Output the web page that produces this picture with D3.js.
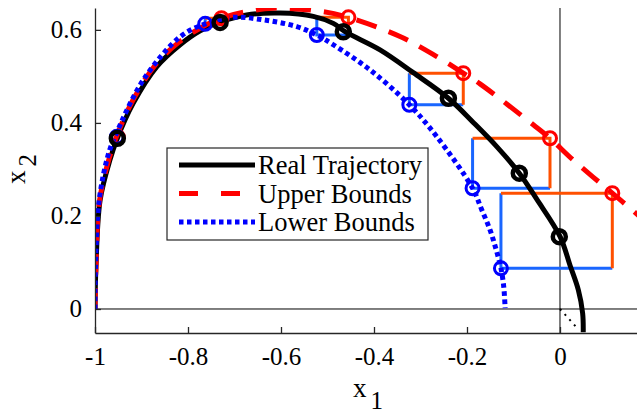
<!DOCTYPE html>
<html>
<head>
<meta charset="utf-8">
<script src="https://d3js.org/d3.v7.min.js"></script>
<style>
  body { margin: 0; background: #fff; }
  text { font-family: "Liberation Serif", "Times New Roman", serif; fill: #000; }
</style>
</head>
<body>
<div class="chart"></div>
<script>
var realTrajectory = [
  [-1, 0], [-0.998, 0.09], [-0.989, 0.234], [-0.968, 0.32], [-0.952, 0.367],
  [-0.918, 0.442], [-0.867, 0.521], [-0.817, 0.568], [-0.774, 0.598], [-0.731, 0.617],
  [-0.674, 0.632], [-0.602, 0.636], [-0.5305, 0.629], [-0.4875, 0.614], [-0.462, 0.596],
  [-0.387, 0.557], [-0.3155, 0.508], [-0.24, 0.453], [-0.1865, 0.401], [-0.136, 0.349],
  [-0.0875, 0.292], [-0.05, 0.236], [0, 0.156], [0.0215, 0.094], [0.0394, 0.041],
  [0.0487, -0.009], [0.050, -0.05]
]

var upperBounds = [
  [-1, 0], [-0.998, 0.09], [-0.990, 0.234], [-0.970, 0.322], [-0.954, 0.37],
  [-0.920, 0.446], [-0.870, 0.525], [-0.820, 0.573], [-0.775, 0.603], [-0.731, 0.624],
  [-0.68, 0.638], [-0.6165, 0.6466], [-0.516, 0.640], [-0.455, 0.627], [-0.344, 0.5856],
  [-0.265, 0.5426], [-0.208, 0.507], [-0.172, 0.484], [-0.0574, 0.396], [-0.0215, 0.367],
  [0.0286, 0.320], [0.1125, 0.249], [0.17, 0.2]
]

var lowerBounds = [
  [-1, 0], [-0.999, 0.09], [-0.991, 0.234], [-0.972, 0.33], [-0.955, 0.375],
  [-0.896, 0.4925], [-0.817, 0.585], [-0.763, 0.613], [-0.703, 0.627], [-0.638, 0.6215],
  [-0.566, 0.607], [-0.523, 0.589], [-0.4875, 0.568], [-0.4086, 0.514], [-0.324, 0.439],
  [-0.265, 0.3705], [-0.188, 0.2596], [-0.169, 0.215], [-0.1505, 0.170], [-0.138, 0.130],
  [-0.127, 0.0875], [-0.121, 0.048], [-0.118, 0.002]
]

var realMarkers = [[-0.952, 0.367], [-0.731, 0.616], [-0.466, 0.596], [-0.24, 0.453], [-0.0875, 0.292], [-0.0015, 0.1555]]
var upperMarkers = [[-0.951, 0.37], [-0.728, 0.625], [-0.455, 0.627], [-0.208, 0.507], [-0.0215, 0.367], [0.1125, 0.249]]
var lowerMarkers = [[-0.953, 0.37], [-0.763, 0.613], [-0.523, 0.589], [-0.324, 0.439], [-0.188, 0.2596], [-0.127, 0.0875]]

var xTicks = [-1, -0.8, -0.6, -0.4, -0.2, 0]
var xTickLabels = ["-1", "-0.8", "-0.6", "-0.4", "-0.2", "0"]
var yTicks = [0, 0.2, 0.4, 0.6]
var yTickLabels = ["0", "0.2", "0.4", "0.6"]
var legendLabels = ["Real Trajectory", "Upper Bounds", "Lower Bounds"]

var width = 637, height = 413
var plotLeft = 95, plotRight = 637, plotTop = 8, plotBottom = 333

var x = d3.scaleLinear().domain([-1, 0.1656]).range([plotLeft, plotRight])
var y = d3.scaleLinear().domain([-0.0516, 0.647]).range([plotBottom, plotTop])

var svg = d3.select(".chart")
  .append("svg")
    .attr("width", width)
    .attr("height", height)

svg.append("clipPath")
    .attr("id", "plot")
  .append("rect")
    .attr("x", plotLeft)
    .attr("y", plotTop)
    .attr("width", plotRight - plotLeft)
    .attr("height", plotBottom - plotTop)

var plot = svg.append("g").attr("clip-path", "url(#plot)")

// zero lines
plot.append("line")
  .attr("x1", plotLeft).attr("x2", plotRight)
  .attr("y1", y(0)).attr("y2", y(0))
  .attr("stroke", "#000").attr("stroke-width", 1)
plot.append("line")
  .attr("x1", x(0)).attr("x2", x(0))
  .attr("y1", plotTop).attr("y2", plotBottom)
  .attr("stroke", "#000").attr("stroke-width", 1)
plot.append("line")
  .attr("x1", x(0.0)).attr("y1", y(0))
  .attr("x2", x(0.036)).attr("y2", y(-0.04))
  .attr("stroke", "#000").attr("stroke-width", 2)
  .attr("stroke-dasharray", "2,5")

// boxes between lower and upper bounds
var boxes = plot.selectAll(".box")
  .data(d3.range(1, lowerMarkers.length))
  .enter()
  .append("g")
    .attr("class", "box")

boxes.append("path")
  .attr("d", i => {
    var lo = lowerMarkers[i], up = upperMarkers[i]
    return "M" + x(lo[0]) + "," + y(up[1]) + "L" + x(lo[0]) + "," + y(lo[1]) + "L" + x(up[0]) + "," + y(lo[1])
  })
  .attr("fill", "none")
  .attr("stroke", "#1a66ff")
  .attr("stroke-width", 3)

boxes.append("path")
  .attr("d", i => {
    var lo = lowerMarkers[i], up = upperMarkers[i]
    return "M" + x(lo[0]) + "," + y(up[1]) + "L" + x(up[0]) + "," + y(up[1]) + "L" + x(up[0]) + "," + y(lo[1])
  })
  .attr("fill", "none")
  .attr("stroke", "#ff5000")
  .attr("stroke-width", 3)

var line = d3.line()
  .x(d => x(d[0]))
  .y(d => y(d[1]))
  .curve(d3.curveCatmullRom)

plot.append("path")
  .datum(realTrajectory)
  .attr("d", line)
  .attr("fill", "none")
  .attr("stroke", "#000")
  .attr("stroke-width", 5)

plot.append("path")
  .datum(upperBounds)
  .attr("d", line)
  .attr("fill", "none")
  .attr("stroke", "#ff0000")
  .attr("stroke-width", 5)
  .attr("stroke-dasharray", "21,13")

plot.append("path")
  .datum(lowerBounds)
  .attr("d", line)
  .attr("fill", "none")
  .attr("stroke", "#0000ff")
  .attr("stroke-width", 5)
  .attr("stroke-dasharray", "4.5,3.5")

function markers(data, colour, r, w) {
  plot.append("g")
    .selectAll("circle")
    .data(data)
    .enter()
    .append("circle")
      .attr("cx", d => x(d[0]))
      .attr("cy", d => y(d[1]))
      .attr("r", r)
      .attr("fill", "none")
      .attr("stroke", colour)
      .attr("stroke-width", w)
}

markers(upperMarkers, "#ff0000", 6.5, 3)
markers(lowerMarkers, "#0000ff", 6.5, 3)
markers(realMarkers, "#000", 6.5, 4.5)

// axes
var xAxis = d3.axisBottom(x)
  .tickValues(xTicks)
  .tickFormat((d, i) => xTickLabels[i])
  .tickSizeInner(-6)
  .tickSizeOuter(0)
  .tickPadding(14)

var yAxis = d3.axisLeft(y)
  .tickValues(yTicks)
  .tickFormat((d, i) => yTickLabels[i])
  .tickSizeInner(-6)
  .tickSizeOuter(0)
  .tickPadding(13)

svg.append("g")
  .attr("transform", "translate(0," + plotBottom + ")")
  .call(xAxis)
svg.append("g")
  .attr("transform", "translate(" + plotLeft + ",0)")
  .call(yAxis)

svg.selectAll(".domain").attr("stroke", "#262626").attr("stroke-width", 1.3)
svg.selectAll(".tick line").attr("stroke", "#262626").attr("stroke-width", 1.3)
svg.selectAll(".tick text")
  .style("font-family", "'Liberation Serif', 'Times New Roman', serif")
  .style("font-size", "25px")
  .attr("fill", "#000")

// axis labels
var xl = svg.append("text")
  .attr("x", 353)
  .attr("y", 397)
  .style("font-size", "27px")
  .text("x")
xl.append("tspan")
  .attr("dx", 4)
  .attr("dy", 12)
  .style("font-size", "25px")
  .text("1")

var yl = svg.append("text")
  .attr("transform", "translate(25,184) rotate(-90)")
  .style("font-size", "27px")
  .text("x")
yl.append("tspan")
  .attr("dx", 4)
  .attr("dy", 11)
  .style("font-size", "25px")
  .text("2")

// legend
var legend = svg.append("g").attr("transform", "translate(167,148)")
legend.append("rect")
  .attr("width", 261)
  .attr("height", 92)
  .attr("fill", "#fff")
  .attr("stroke", "#262626")
  .attr("stroke-width", 1.2)

var styles = [
  { colour: "#000", dash: null },
  { colour: "#ff0000", dash: "19,23" },
  { colour: "#0000ff", dash: "4.5,3.5" }
]

var items = legend.selectAll(".item")
  .data(legendLabels)
  .enter()
  .append("g")
    .attr("transform", (d, i) => "translate(0," + (17 + i * 28.5) + ")")

items.append("line")
  .attr("x1", 12)
  .attr("x2", 88)
  .attr("stroke", (d, i) => styles[i].colour)
  .attr("stroke-width", 5)
  .attr("stroke-dasharray", (d, i) => styles[i].dash)

items.append("text")
  .attr("x", 91)
  .attr("y", 9)
  .style("font-size", "26.5px")
  .text(d => d)
</script>
</body>
</html>
